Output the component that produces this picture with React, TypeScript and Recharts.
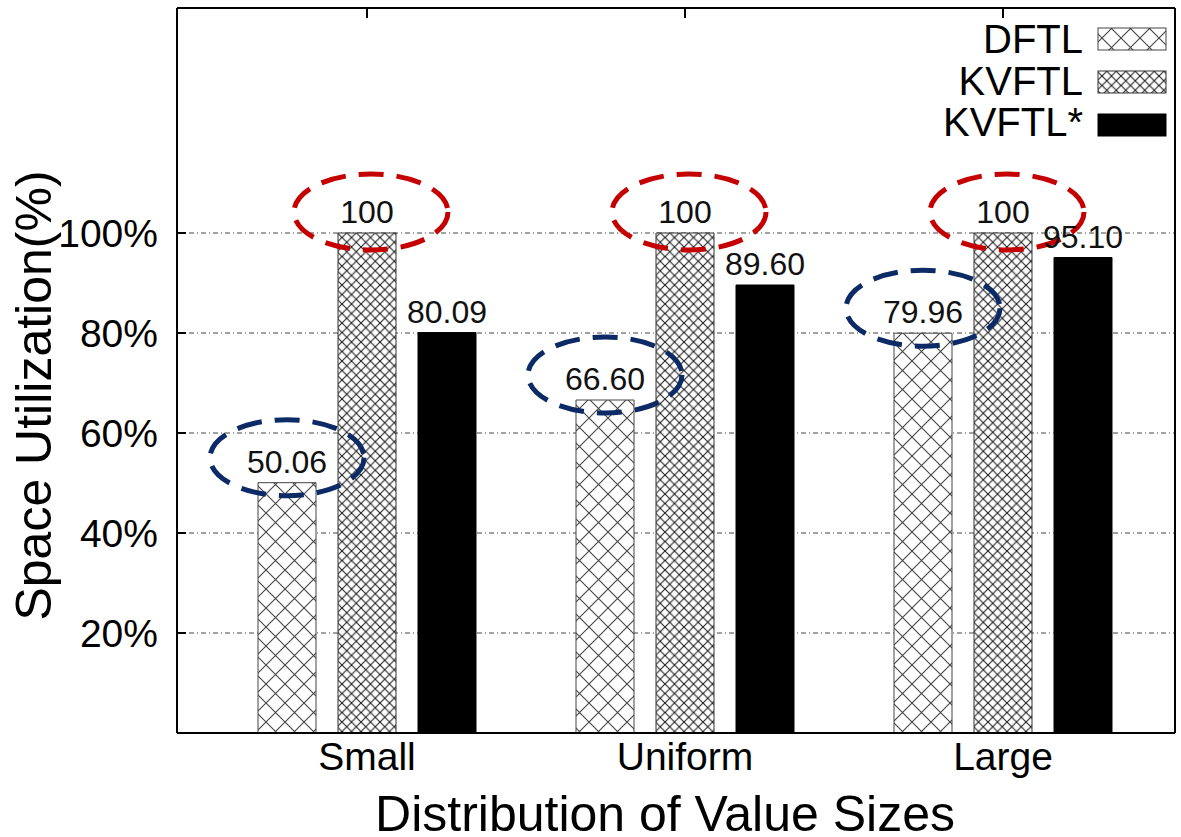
import { BarChart, Bar, XAxis, YAxis, CartesianGrid, LabelList } from 'recharts';

const categories = ['Small', 'Uniform', 'Large'];
const dftl = [50.06, 66.6, 79.96];
const kvftl = [100, 100, 100];
const kvftlStar = [80.09, 89.6, 95.1];
const yTicks = [20, 40, 60, 80, 100];

const data = categories.map((name, i) => ({
  name,
  dftl: dftl[i],
  kvftl: kvftl[i],
  kvftlStar: kvftlStar[i],
}));

const SERIES = [
  { key: 'dftl', name: 'DFTL', fill: 'url(#hatchWide)', stroke: '#444', ring: '#0b2a66', ringDx: 0, ringDy: -25 },
  { key: 'kvftl', name: 'KVFTL', fill: 'url(#hatchDense)', stroke: '#333', ring: '#c40000', ringDx: 4, ringDy: -21 },
  { key: 'kvftlStar', name: 'KVFTL*', fill: '#000', stroke: '#000', ring: '', ringDx: 0, ringDy: 0 },
];

const W = 1181;
const H = 837;
const FONT = '"Liberation Sans", Arial, Helvetica, sans-serif';

const fmt = (v: number) => (v === 100 ? '100' : v.toFixed(2));

const makeLabel = (s: (typeof SERIES)[number]) => (props: any) => {
  const { x, y, width, value } = props;
  const cx = x + width / 2;
  return (
    <g>
      <text x={cx} y={y - 10} textAnchor="middle" fontSize={32} fill="#111">
        {fmt(value)}
      </text>
      {s.ring && (
        <ellipse
          cx={cx + s.ringDx}
          cy={y + s.ringDy}
          rx={77}
          ry={38}
          fill="none"
          stroke={s.ring}
          strokeWidth={5}
          strokeDasharray="25 13"
        />
      )}
    </g>
  );
};

const YTick = ({ x, y, payload }: any) => (
  <g>
    <text x={x} y={y} dy="0.36em" textAnchor="end" fontSize={39} fill="#000">
      {payload.value}%
    </text>
    <line x1={x + 19} x2={x + 28} y1={y} y2={y} stroke="#000" strokeWidth={2} />
  </g>
);

const XTick = ({ x, y, payload }: any) => (
  <text x={x} y={y + 37} textAnchor="middle" fontSize={39} fill="#000">
    {payload.value}
  </text>
);

const TopTick = ({ x, y }: any) => <line x1={x} x2={x} y1={y + 1} y2={y + 10} stroke="#000" strokeWidth={2} />;

export default function App() {
  return (
    <div style={{ position: 'absolute', left: 0, top: 0, width: W, height: H, background: '#fff', fontFamily: FONT }}>
      <svg width={W} height={H} style={{ position: 'absolute', left: 0, top: 0, pointerEvents: 'none', zIndex: 2 }}>
        <defs>
          <pattern id="hatchWide" patternUnits="userSpaceOnUse" width={19} height={19}>
            <rect width={19} height={19} fill="#fff" />
            <path d="M-1,-1 L20,20 M20,-1 L-1,20" stroke="#444" strokeWidth={1.1} />
          </pattern>
          <pattern id="hatchDense" patternUnits="userSpaceOnUse" width={9.5} height={9.5}>
            <rect width={9.5} height={9.5} fill="#fff" />
            <path d="M-1,-1 L10.5,10.5 M10.5,-1 L-1,10.5" stroke="#222" strokeWidth={1.15} />
          </pattern>
        </defs>
        {SERIES.map((s, i) => (
          <g key={s.key}>
            <text x={1083} y={53 + i * 41.5} textAnchor="end" fontSize={40} fill="#000">
              {s.name}
            </text>
            <rect x={1098} y={28 + i * 43} width={68} height={22} fill={s.fill} stroke={s.stroke} strokeWidth={1} />
          </g>
        ))}
      </svg>
      <BarChart
        width={W}
        height={H}
        data={data}
        margin={{ top: 7, right: 5, bottom: 0, left: 0 }}
        barSize={58}
        barGap={22}
      >
        <CartesianGrid vertical={false} stroke="#444" strokeWidth={1} strokeDasharray="5 3 1 3" />
        <XAxis
          dataKey="name"
          height={104}
          padding={{ left: 31, right: 13 }}
          axisLine={{ stroke: '#000', strokeWidth: 2 }}
          tickLine={false}
          tickSize={0}
          tickMargin={0}
          tick={<XTick />}
          interval={0}
          label={({ viewBox }: any) => (
            <text x={viewBox.x + viewBox.width / 2 - 11} y={viewBox.y + 98} textAnchor="middle" fontSize={50} fill="#000">
              Distribution of Value Sizes
            </text>
          )}
        />
        <XAxis
          xAxisId="top"
          dataKey="name"
          orientation="top"
          height={1}
          padding={{ left: 31, right: 13 }}
          axisLine={{ stroke: '#000', strokeWidth: 2 }}
          tickLine={false}
          tickSize={0}
          tickMargin={0}
          tick={<TopTick />}
          interval={0}
        />
        <YAxis
          width={177}
          domain={[0, 145]}
          ticks={yTicks}
          allowDataOverflow
          axisLine={{ stroke: '#000', strokeWidth: 2 }}
          tickLine={false}
          tickSize={0}
          tickMargin={19}
          tick={<YTick />}
          label={({ viewBox }: any) => {
            const lx = viewBox.x + 51;
            const ly = viewBox.y + viewBox.height / 2 + 25;
            return (
              <text x={lx} y={ly} transform={`rotate(-90, ${lx}, ${ly})`} textAnchor="middle" fontSize={50} fill="#000">
                Space Utilization(%)
              </text>
            );
          }}
        />
        <YAxis
          yAxisId="right"
          orientation="right"
          width={1}
          domain={[0, 145]}
          ticks={yTicks}
          tick={false}
          tickLine={false}
          axisLine={{ stroke: '#000', strokeWidth: 2 }}
        />
        {SERIES.map((s) => (
          <Bar key={s.key} dataKey={s.key} fill={s.fill} stroke={s.stroke} strokeWidth={1} isAnimationActive={false}>
            <LabelList dataKey={s.key} content={makeLabel(s)} />
          </Bar>
        ))}
      </BarChart>
    </div>
  );
}
